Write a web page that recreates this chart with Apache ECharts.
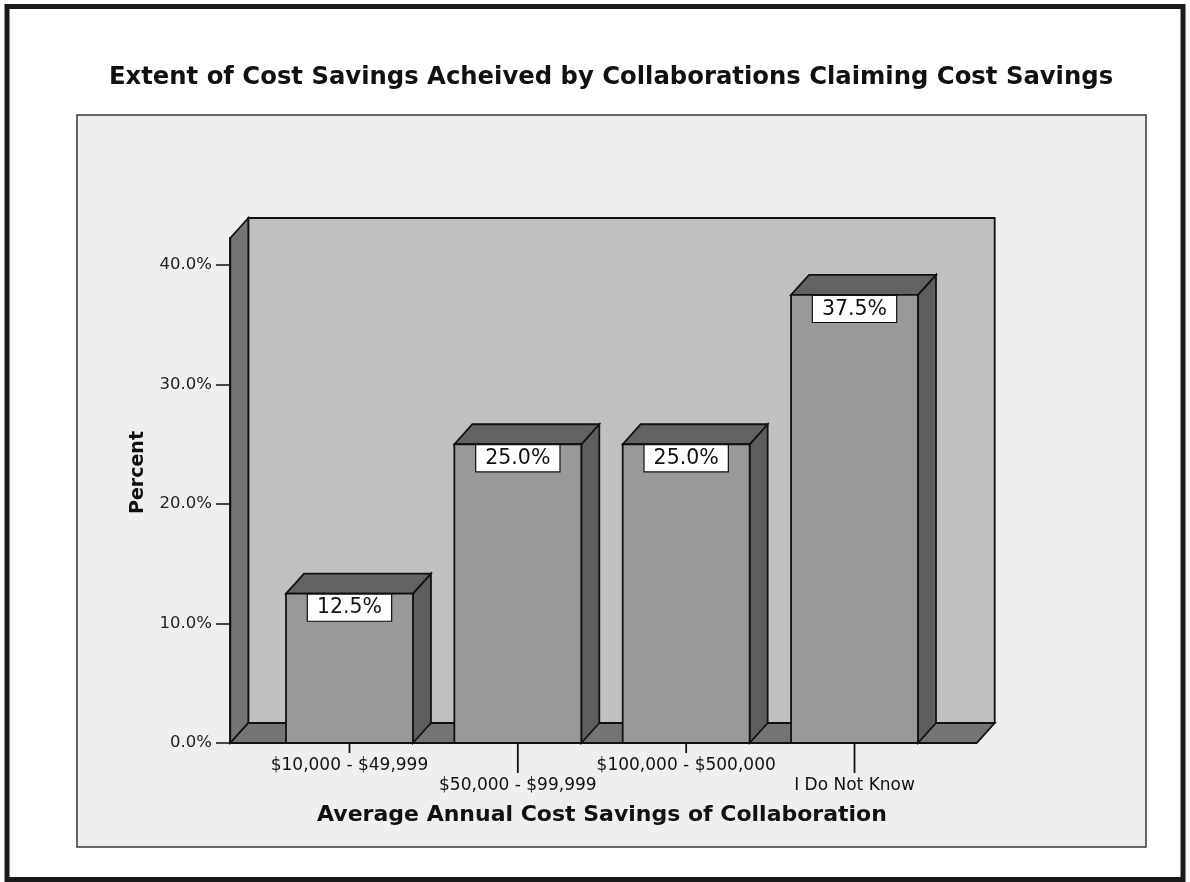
<!DOCTYPE html>
<html>
<head>
<meta charset="utf-8">
<script src="https://cdn.jsdelivr.net/npm/echarts@6/dist/echarts.min.js"></script>
<style>
html,body{margin:0;padding:0;background:#fff;}
#chart{width:1190px;height:882px;}
</style>
</head>
<body>
<div id="chart"></div>
<script>
var titleText = 'Extent of Cost Savings Acheived by Collaborations Claiming Cost Savings';
var categories = ['$10,000 - $49,999', '$50,000 - $99,999', '$100,000 - $500,000', 'I Do Not Know'];
var percentValues = [12.5, 25.0, 25.0, 37.5];
var yTicks = [0, 10, 20, 30, 40];
var xAxisTitle = 'Average Annual Cost Savings of Collaboration';
var yAxisTitle = 'Percent';

var DX = 18, DY = -20;       // depth offset of the 3D effect
var LEFT_EXT = 35, RIGHT_EXT = 38;
var BAR_RATIO = 0.754;
var STROKE = '#111';
var LW = 1.8;

var chart = echarts.init(document.getElementById('chart'), null, {renderer: 'canvas'});

var barData = categories.map(function (c, i) { return [i, percentValues[i]]; });

function renderWalls(params, api) {
  var cs = params.coordSys;
  var y0 = api.coord([0, 0])[1];
  var yTop = cs.y;
  var left = cs.x - LEFT_EXT;
  var right = cs.x + cs.width + RIGHT_EXT;
  var st = {stroke: STROKE, lineWidth: LW};
  return {
    type: 'group',
    children: [
      {type: 'rect', shape: {x: left + DX, y: yTop + DY, width: right - left, height: y0 - yTop},
       style: Object.assign({fill: '#c0c0c0'}, st)},
      {type: 'polygon', shape: {points: [[left, y0], [left + DX, y0 + DY], [left + DX, yTop + DY], [left, yTop]]},
       style: Object.assign({fill: '#747474'}, st)},
      {type: 'polygon', shape: {points: [[left, y0], [right, y0], [right + DX, y0 + DY], [left + DX, y0 + DY]]},
       style: Object.assign({fill: '#747474'}, st)}
    ]
  };
}

function renderBar(params, api) {
  var idx = api.value(0);
  var v = api.value(1);
  var top = api.coord([idx, v]);
  var base = api.coord([idx, 0]);
  var w = api.size([1, 0])[0] * BAR_RATIO;
  var xl = top[0] - w / 2, xr = top[0] + w / 2;
  var yt = top[1], yb = base[1];
  var st = {stroke: STROKE, lineWidth: LW};
  var tickLen = (idx % 2 === 1) ? 30 : 10;
  return {
    type: 'group',
    children: [
      {type: 'line', shape: {x1: top[0], y1: yb, x2: top[0], y2: yb + tickLen},
       style: {stroke: STROKE, lineWidth: LW}},
      {type: 'polygon', shape: {points: [[xr, yt], [xr + DX, yt + DY], [xr + DX, yb + DY], [xr, yb]]},
       style: Object.assign({fill: '#5e5e5e'}, st)},
      {type: 'polygon', shape: {points: [[xl, yt], [xl + DX, yt + DY], [xr + DX, yt + DY], [xr, yt]]},
       style: Object.assign({fill: '#626262'}, st)},
      {type: 'rect', shape: {x: xl, y: yt, width: w, height: yb - yt},
       style: Object.assign({fill: '#999999'}, st)},
      {type: 'text', x: top[0], y: yt + 1,
       style: {text: v.toFixed(1) + '%', align: 'center', verticalAlign: 'top',
               fontFamily: 'DejaVu Sans', fontSize: 20.5, fill: '#111',
               backgroundColor: '#ffffff', borderColor: '#111', borderWidth: 1.2,
               padding: [3, 9, 2, 9]}}
    ]
  };
}

var option = {
  animation: false,
  backgroundColor: '#ffffff',
  graphic: [
    {type: 'rect', z: -10, shape: {x: 7, y: 6.5, width: 1176, height: 873},
     style: {fill: '#ffffff', stroke: '#1a1a1a', lineWidth: 5}},
    {type: 'rect', z: -9, shape: {x: 77, y: 115, width: 1069, height: 732},
     style: {fill: '#efefef', stroke: '#3a3a3a', lineWidth: 1.5}}
  ],
  title: {
    text: titleText,
    left: 606,
    top: 61,
    textAlign: 'center',
    textStyle: {fontFamily: 'DejaVu Sans', fontWeight: 'bold', fontSize: 24.3, color: '#111'}
  },
  grid: {left: 265.3, right: 251.3, top: 238, bottom: 139, containLabel: false},
  xAxis: {
    type: 'category',
    data: categories,
    axisLine: {show: false},
    axisTick: {show: false},
    splitLine: {show: false},
    axisLabel: {
      interval: 0,
      margin: 14,
      fontFamily: 'DejaVu Sans',
      fontSize: 17,
      color: '#111',
      formatter: function (val, i) { return (i % 2 === 1) ? '{b|' + val + '}' : '{a|' + val + '}'; },
      rich: {
        a: {fontFamily: 'DejaVu Sans', fontSize: 17, color: '#111'},
        b: {fontFamily: 'DejaVu Sans', fontSize: 17, color: '#111', padding: [20, 0, 0, 0]}
      }
    },
    name: xAxisTitle,
    nameLocation: 'middle',
    nameGap: 61,
    nameTextStyle: {fontFamily: 'DejaVu Sans', fontWeight: 'bold', fontSize: 22, color: '#111'}
  },
  yAxis: {
    type: 'value',
    min: 0,
    max: 42.26,
    interval: 10,
    offset: 35.3,
    axisLine: {show: true, lineStyle: {color: STROKE, width: LW}},
    axisTick: {show: true, length: 14, lineStyle: {color: STROKE, width: 1.5}},
    splitLine: {show: false},
    axisLabel: {
      margin: 18,
      fontFamily: 'DejaVu Sans',
      fontSize: 16.5,
      color: '#222',
      showMaxLabel: false,
      formatter: function (v) { return yTicks.indexOf(v) >= 0 ? v.toFixed(1) + '%' : ''; }
    },
    name: yAxisTitle,
    nameLocation: 'middle',
    nameRotate: 90,
    nameGap: 82,
    nameTextStyle: {fontFamily: 'DejaVu Sans', fontWeight: 'bold', fontSize: 19, color: '#111', padding: [0, 0, 0, 36]}
  },
  series: [
    {type: 'custom', name: 'walls', data: [[0, 0]], renderItem: renderWalls, z: 1, silent: true},
    {type: 'custom', name: 'Percent', data: barData, renderItem: renderBar, z: 3}
  ]
};
chart.setOption(option);
</script>
</body>
</html>
